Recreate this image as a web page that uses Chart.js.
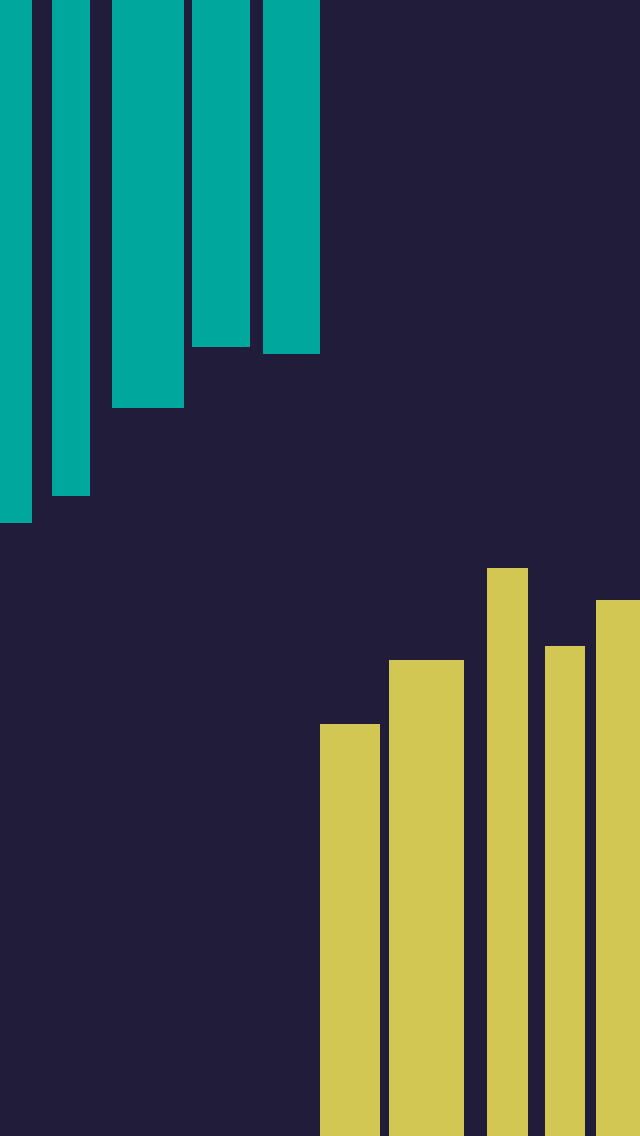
<!DOCTYPE html>
<html>
<head>
<meta charset="utf-8">
<script src="https://cdn.jsdelivr.net/npm/chart.js@4/dist/chart.umd.min.js"></script>
<style>
  html, body { margin: 0; padding: 0; background: #211c3a; overflow: hidden; }
  #wrap { width: 640px; height: 1136px; position: relative; }
</style>
</head>
<body>
<div id="wrap"><canvas id="c"></canvas></div>
<script>
// Teal bars hanging from the top (depth measured from top edge)
const tealLeft  = [0, 52, 112, 192, 263];
const tealRight = [32, 90, 184, 250, 320];
const tealDepth = [523, 496, 408, 347, 354];

// Yellow bars rising from the bottom (height measured from bottom edge)
const yellowLeft   = [320, 389, 487, 545, 596];
const yellowRight  = [380, 464, 528, 585, 640];
const yellowHeight = [412, 476, 568, 490, 536];

const TEAL = '#00a79d';
const YELLOW = '#d2c752';

function barDataset(l, r, v, color, axis) {
  return {
    data: [{x: l, y: v}, {x: r, y: v}],
    yAxisID: axis,
    fill: {value: 0},
    backgroundColor: color,
    borderWidth: 0,
    borderColor: 'rgba(0,0,0,0)',
    pointRadius: 0,
    pointHoverRadius: 0,
    tension: 0
  };
}

const datasets = [];
tealLeft.forEach((l, i) => datasets.push(barDataset(l, tealRight[i], tealDepth[i], TEAL, 'yTop')));
yellowLeft.forEach((l, i) => datasets.push(barDataset(l, yellowRight[i], yellowHeight[i], YELLOW, 'yBottom')));

new Chart(document.getElementById('c'), {
  type: 'line',
  data: { datasets },
  options: {
    responsive: true,
    maintainAspectRatio: false,
    animation: false,
    layout: { padding: 0 },
    plugins: { legend: { display: false }, tooltip: { enabled: false } },
    events: [],
    scales: {
      x: { type: 'linear', min: 0, max: 640, display: false },
      yTop: { type: 'linear', min: 0, max: 1136, reverse: true, display: false },
      yBottom: { type: 'linear', min: 0, max: 1136, display: false }
    }
  }
});
</script>
</body>
</html>
